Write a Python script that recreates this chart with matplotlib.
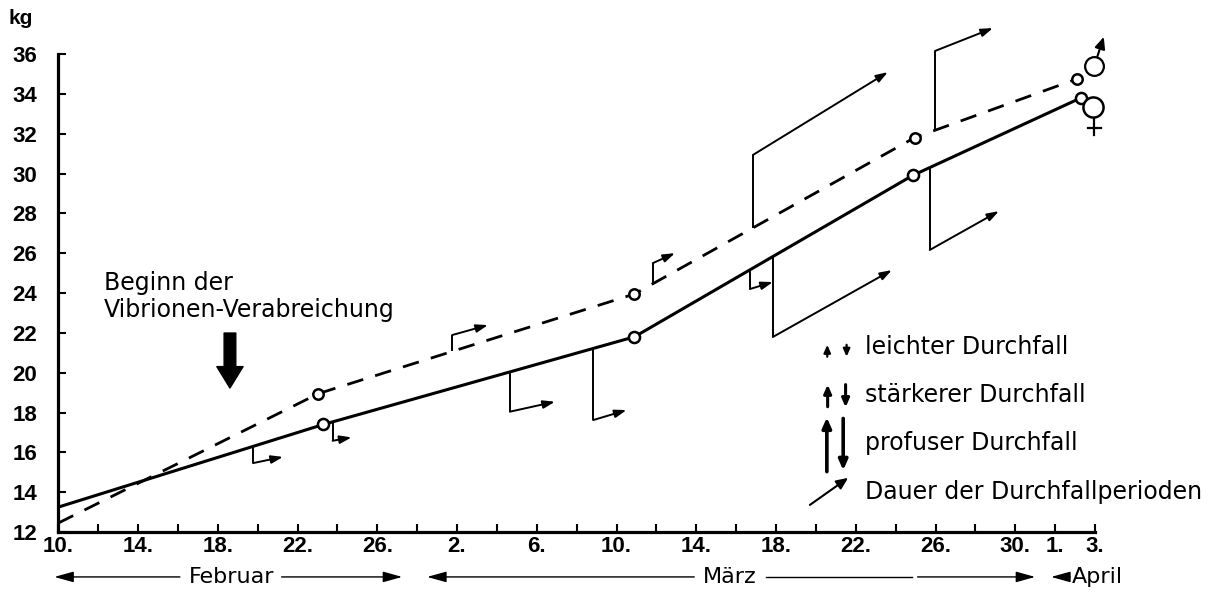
import numpy as np
import matplotlib
matplotlib.use("Agg")
import matplotlib.pyplot as plt

# Tage ab 10. Februar (Feb 10 = 0, Apr 3 = 52)
tick_days = np.arange(0, 53, 2)
label_days = [0, 4, 8, 12, 16, 20, 24, 28, 32, 36, 40, 44, 48, 50, 52]
label_text = ["10.", "14.", "18.", "22.", "26.", "2.", "6.", "10.", "14.",
              "18.", "22.", "26.", "30.", "1.", "3."]
kg_ticks = np.arange(12, 37, 2)

# Gewichtskurven (kg)
solid_days = [0, 13.3, 28.9, 42.85, 51.3]
solid_kg = [13.25, 17.4, 21.8, 29.9, 33.8]
dashed_days = [0, 13.05, 28.9, 42.95, 51.1]
dashed_kg = [12.45, 18.95, 23.95, 31.8, 34.75]

# Durchfallperioden: Tag, Ende der Senkrechten (kg), Pfeilspitze (Tag, kg)
solid_diarr_day = [9.77, 13.76, 22.65, 26.83, 34.69, 35.84, 43.71]
solid_diarr_end = [15.46, 16.58, 18.04, 17.62, 24.2, 21.79, 26.16]
solid_diarr_tip_day = [11.27, 14.71, 24.91, 28.5, 35.84, 41.81, 47.18]
solid_diarr_tip_kg = [15.77, 16.75, 18.54, 18.12, 24.55, 25.15, 28.11]

dashed_diarr_day = [19.76, 29.82, 34.84, 43.97]
dashed_diarr_end = [21.89, 25.5, 30.93, 36.15]
dashed_diarr_tip_day = [21.55, 30.93, 41.61, 46.88]
dashed_diarr_tip_kg = [22.39, 26.0, 35.09, 37.3]

# Beginn der Vibrionen-Gabe
start_day = 8.61

W, H = 1219, 609
fig = plt.figure(figsize=(W / 100, H / 100), dpi=100)
ax = fig.add_axes([58.3 / W, 1 - 532 / H, (1095 - 58.3) / W, (532 - 54) / H])

txt_font = ["DejaVu Sans"]
num_font = ["Liberation Sans", "DejaVu Sans"]

# Kurven
ax.plot(solid_days, solid_kg, color="black", lw=2.2, solid_capstyle="round")
ax.plot(dashed_days, dashed_kg, color="black", lw=2.0, dashes=(6, 4.5))
ax.plot(solid_days[1:], solid_kg[1:], ls="none", marker="o", ms=8,
        mfc="white", mec="black", mew=1.8, zorder=5)
ax.plot(dashed_days[1:], dashed_kg[1:], ls="none", marker="o", ms=7.5,
        mfc="white", mec="black", mew=1.8, zorder=5)

arrow_kw = dict(arrowstyle="-|>,head_length=0.5,head_width=0.17",
                mutation_scale=14, color="black", lw=1.4,
                shrinkA=0, shrinkB=0)


def draw_markers(days, ends, tip_days, tip_kg, cx, cy):
    for d, e, td, tk in zip(days, ends, tip_days, tip_kg):
        y0 = np.interp(d, cx, cy)
        ax.plot([d, d], [y0, e], color="black", lw=1.4, clip_on=False,
                solid_capstyle="butt")
        ax.annotate("", xy=(td, tk), xytext=(d, e), arrowprops=arrow_kw,
                    annotation_clip=False)


draw_markers(solid_diarr_day, solid_diarr_end, solid_diarr_tip_day,
             solid_diarr_tip_kg, solid_days, solid_kg)
draw_markers(dashed_diarr_day, dashed_diarr_end, dashed_diarr_tip_day,
             dashed_diarr_tip_kg, dashed_days, dashed_kg)

# Geschlechtssymbole
ax.plot([51.96], [35.41], marker="o", ms=13.5, mfc="white", mec="black",
        mew=1.6, clip_on=False, zorder=6)
ax.annotate("", xy=(52.44, 36.86), xytext=(52.12, 35.88),
            arrowprops=dict(arrowstyle="-|>,head_length=0.5,head_width=0.22",
                            mutation_scale=14, color="black", lw=1.5,
                            shrinkA=0, shrinkB=0), annotation_clip=False)
ax.plot([51.88], [33.32], marker="o", ms=14.5, mfc="white", mec="black",
        mew=1.8, clip_on=False, zorder=6)
ax.plot([51.95, 51.95], [32.82, 31.93], color="black", lw=1.6, clip_on=False)
ax.plot([51.64, 52.3], [32.27, 32.27], color="black", lw=1.6, clip_on=False)

# Pfeil: Beginn der Vibrionen-Verabreichung
ax.annotate("", xy=(start_day, 19.23), xytext=(start_day, 21.99),
            arrowprops=dict(arrowstyle="simple,head_length=1.1,head_width=1.35,tail_width=0.6",
                            mutation_scale=14, fc="black", ec="black",
                            shrinkA=0, shrinkB=0))
ax.text(2.3, 24.5, "Beginn der", fontsize=17, family=txt_font,
        va="center", ha="left")
ax.text(2.3, 23.15, "Vibrionen-Verabreichung", fontsize=17, family=txt_font,
        va="center", ha="left")

# Legende
for x0, x1, y0, y1, w, ms in [(38.57, 38.57, 20.8, 21.4, 1.6, 9),
                              (39.54, 39.54, 21.4, 20.8, 1.6, 9),
                              (38.59, 38.59, 18.29, 19.4, 2.2, 10),
                              (39.49, 39.49, 19.4, 18.26, 2.2, 10),
                              (38.55, 38.55, 15.03, 17.75, 2.6, 12),
                              (39.37, 39.37, 17.7, 15.1, 2.6, 12),
                              (37.7, 39.62, 13.36, 14.72, 1.5, 14)]:
    ax.annotate("", xy=(x1, y1), xytext=(x0, y0),
                arrowprops=dict(arrowstyle="-|>,head_length=0.5,head_width=0.22",
                                mutation_scale=ms, color="black", lw=w,
                                shrinkA=0, shrinkB=0))
for y, s in [(21.3, "leichter Durchfall"), (18.9, "stärkerer Durchfall"),
             (16.45, "profuser Durchfall"), (14.0, "Dauer der Durchfallperioden")]:
    ax.text(40.45, y, s, fontsize=17, family=txt_font, va="center",
            ha="left")

# Achsen
ax.set_xlim(0, 52)
ax.set_ylim(12, 36)
for side in ["top", "right"]:
    ax.spines[side].set_visible(False)
for side in ["left", "bottom"]:
    ax.spines[side].set_linewidth(2.3)
ax.set_xticks(tick_days)
ax.set_xticklabels([])
ax.set_yticks(kg_ticks)
ax.set_yticklabels([str(v) for v in kg_ticks], fontsize=16,
                   fontweight="bold", family=num_font)
ax.tick_params(direction="in", length=6, width=1.5)
ax.tick_params(axis="y", pad=15)
for d, s in zip(label_days, label_text):
    ax.text(d, -0.03, s, transform=ax.get_xaxis_transform(), fontsize=16,
            fontweight="bold", family=num_font, ha="center", va="center")
fig.text(8 / W, 1 - 19 / H, "kg", fontsize=15, fontweight="bold",
         family=num_font, ha="left", va="center")

# Monatsleiste
xt = ax.get_xaxis_transform()
my = -0.094
month_kw = dict(arrowstyle="-|>,head_length=0.9,head_width=0.25",
                mutation_scale=13, color="black", lw=1.0,
                shrinkA=0, shrinkB=0)
for x0, x1 in [(6.1, -0.2), (11.2, 17.25), (31.9, 18.5), (43.1, 49.0),
               (50.75, 49.8)]:
    ax.annotate("", xy=(x1, my), xytext=(x0, my), xycoords=xt,
                textcoords=xt, arrowprops=month_kw, annotation_clip=False)
ax.plot([35.5, 42.8], [my, my], transform=xt, color="black", lw=1.0,
        clip_on=False)
ax.text(8.7, my, "Februar", transform=xt, fontsize=16, family=txt_font,
        ha="center", va="center")
ax.text(33.7, my, "März", transform=xt, fontsize=16, family=txt_font,
        ha="center", va="center")
ax.text(50.85, my, "April", transform=xt, fontsize=16, family=txt_font,
        ha="left", va="center")

fig.savefig("out.png", dpi=100)
